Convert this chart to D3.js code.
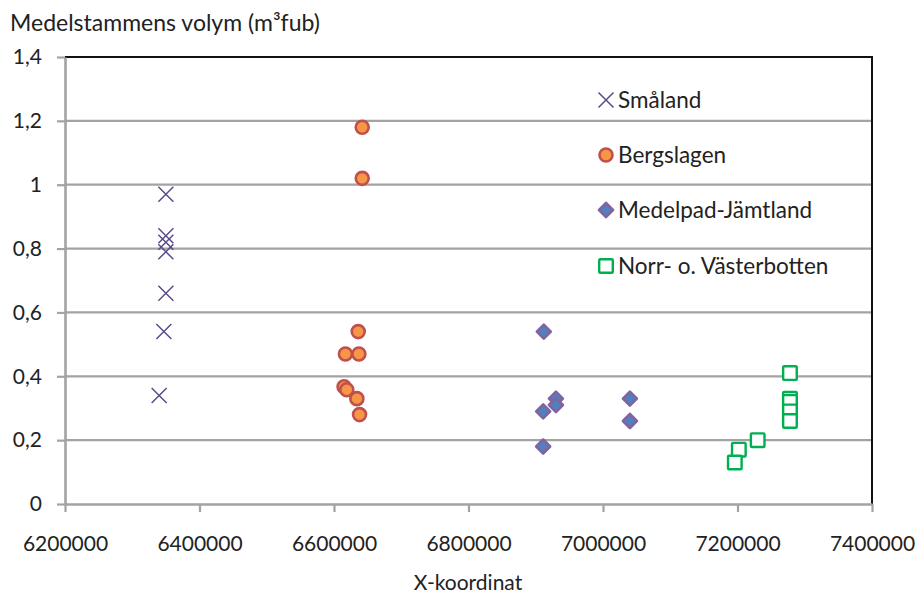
<!DOCTYPE html>
<html>
<head>
<meta charset="utf-8">
<script src="https://cdn.jsdelivr.net/npm/d3@7"></script>
<style>
  html, body { margin: 0; padding: 0; background: #fff; }
  svg text { font-family: Lato, "Noto Sans", sans-serif; fill: #222; }
</style>
</head>
<body>
<svg id="chart" width="917" height="595"></svg>
<script>
// Mean stem volume (m³fub) by X-coordinate, four regions
const smalandX = [6350000, 6350000, 6350000, 6350000, 6350000, 6347000, 6340000];
const smalandY = [0.97, 0.84, 0.82, 0.79, 0.66, 0.54, 0.34];

const bergslagenX = [6642000, 6642000, 6636000, 6617000, 6637000, 6615000, 6619000, 6634000, 6638000];
const bergslagenY = [1.18, 1.02, 0.54, 0.47, 0.47, 0.367, 0.358, 0.33, 0.28];

const medelpadX = [6912000, 6930000, 6930000, 6911000, 6911000, 7040000, 7040000];
const medelpadY = [0.54, 0.33, 0.31, 0.29, 0.18, 0.33, 0.26];

const norrX = [7278000, 7278000, 7278000, 7278000, 7278000, 7230000, 7202000, 7196000];
const norrY = [0.41, 0.33, 0.32, 0.29, 0.26, 0.20, 0.17, 0.13];

const seriesNames = ["Småland", "Bergslagen", "Medelpad-Jämtland", "Norr- o. Västerbotten"];

const xTicks = [6200000, 6400000, 6600000, 6800000, 7000000, 7200000, 7400000];
const yTicks = [0, 0.2, 0.4, 0.6, 0.8, 1, 1.2, 1.4];

const yTitle = "Medelstammens volym (m³fub)";
const xTitle = "X-koordinat";

const svg = d3.select("#chart");
const plotLeft = 65, plotRight = 872, plotTop = 57, plotBottom = 504;

const x = d3.scaleLinear().domain([6200000, 7400000]).range([plotLeft, plotRight]);
const y = d3.scaleLinear().domain([0, 1.4]).range([plotBottom, plotTop]);

const grey = "#a3a3a3";
const fmt = d => String(d).replace(".", ",");

// horizontal gridlines
svg.append("g").selectAll("line")
  .data(yTicks.filter(d => d > 0 && d < 1.4))
  .join("line")
  .attr("x1", plotLeft).attr("x2", plotRight)
  .attr("y1", d => y(d)).attr("y2", d => y(d))
  .attr("stroke", grey).attr("stroke-width", 2.2);

// plot frame: top and right edges in black
svg.append("line").attr("x1", plotLeft).attr("x2", plotRight + 1)
  .attr("y1", plotTop).attr("y2", plotTop).attr("stroke", "#111").attr("stroke-width", 2);
svg.append("line").attr("x1", plotRight).attr("x2", plotRight)
  .attr("y1", plotTop).attr("y2", plotBottom).attr("stroke", "#111").attr("stroke-width", 2);

// y axis
const yAxis = svg.append("g").attr("transform", `translate(${plotLeft},0)`)
  .call(d3.axisLeft(y).tickValues(yTicks).tickFormat(fmt).tickSize(8).tickSizeOuter(0).tickPadding(15));
yAxis.select(".domain").attr("stroke", grey).attr("stroke-width", 2.6);
yAxis.selectAll(".tick line").attr("stroke", grey).attr("stroke-width", 2.2);
yAxis.selectAll(".tick text").attr("font-size", 21).attr("font-family", "Lato, sans-serif").attr("fill", "#222");

// x axis
const xAxis = svg.append("g").attr("transform", `translate(0,${plotBottom})`)
  .call(d3.axisBottom(x).tickValues(xTicks).tickFormat(d => String(d)).tickSize(8).tickSizeOuter(0).tickPadding(24));
xAxis.select(".domain").attr("stroke", grey).attr("stroke-width", 2.6);
xAxis.selectAll(".tick line").attr("stroke", grey).attr("stroke-width", 2.2);
xAxis.selectAll(".tick text").attr("font-size", 21).attr("font-family", "Lato, sans-serif").attr("fill", "#222");

// axis titles
svg.append("text").attr("x", 10).attr("y", 31).attr("font-size", 23).text(yTitle);
svg.append("text").attr("x", 468).attr("y", 590).attr("text-anchor", "middle").attr("font-size", 21).text(xTitle);

// marker drawers
function drawCross(g, cx, cy) {
  const s = 7.5;
  g.append("path")
    .attr("d", `M${cx - s},${cy - s}L${cx + s},${cy + s}M${cx - s},${cy + s}L${cx + s},${cy - s}`)
    .attr("stroke", "#5b4a8a").attr("stroke-width", 1.5).attr("fill", "none");
}
function drawCircle(g, cx, cy) {
  g.append("circle").attr("cx", cx).attr("cy", cy).attr("r", 6.5)
    .attr("fill", "#f79646").attr("stroke", "#c0504d").attr("stroke-width", 2.6);
}
function drawDiamond(g, cx, cy) {
  const s = 7;
  g.append("path")
    .attr("d", `M${cx},${cy - s}L${cx + s},${cy}L${cx},${cy + s}L${cx - s},${cy}Z`)
    .attr("fill", "#4f81bd").attr("stroke", "#8064a2").attr("stroke-width", 2.6)
    .attr("stroke-linejoin", "round");
}
function drawSquare(g, cx, cy) {
  const s = 6.8;
  g.append("rect").attr("x", cx - s).attr("y", cy - s).attr("width", 2 * s).attr("height", 2 * s)
    .attr("fill", "#fff").attr("stroke", "#00b050").attr("stroke-width", 2.4)
    .attr("rx", 1);
}

const series = [
  { xs: smalandX, ys: smalandY, draw: drawCross },
  { xs: bergslagenX, ys: bergslagenY, draw: drawCircle },
  { xs: medelpadX, ys: medelpadY, draw: drawDiamond },
  { xs: norrX, ys: norrY, draw: drawSquare }
];

const marks = svg.append("g");
series.forEach(s => {
  const g = marks.append("g");
  s.xs.forEach((xv, i) => s.draw(g, x(xv), y(s.ys[i])));
});

// legend
const legendY = [100, 155, 210, 266];
const legend = svg.append("g");
series.forEach((s, i) => {
  const g = legend.append("g");
  s.draw(g, 606, legendY[i]);
  g.append("text").attr("x", 618).attr("y", legendY[i] + 8)
    .attr("font-size", 22.5).text(seriesNames[i]);
});
</script>
</body>
</html>
